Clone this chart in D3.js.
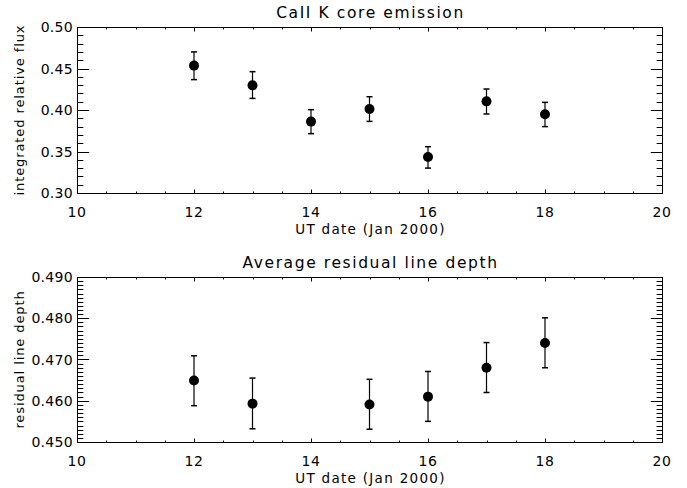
<!DOCTYPE html>
<html>
<head>
<meta charset="utf-8">
<script src="https://cdn.jsdelivr.net/npm/d3@7"></script>
<style>
  html, body { margin: 0; padding: 0; background: #fff; }
  svg text { font-family: "DejaVu Sans", sans-serif; fill: #000; }
</style>
</head>
<body>
<svg id="chart" width="687" height="488"></svg>
<script>
// ---- data ----
const days = [12, 13, 14, 15, 16, 17, 18];
const fluxValues = [0.4535, 0.4297, 0.3860, 0.4012, 0.3434, 0.4104, 0.3948];
const fluxErrLow = [0.4366, 0.4140, 0.3715, 0.3863, 0.3300, 0.3952, 0.3800];
const fluxErrHigh = [0.4700, 0.4462, 0.4004, 0.4160, 0.3558, 0.4253, 0.4092];

const depthDays = [12, 13, 15, 16, 17, 18];
const depthValues = [0.4649, 0.4593, 0.4591, 0.4610, 0.4680, 0.4740];
const depthErrLow = [0.4588, 0.4532, 0.4531, 0.4550, 0.4620, 0.4680];
const depthErrHigh = [0.4709, 0.4655, 0.4652, 0.4671, 0.4741, 0.4801];

const xTicks = [10, 12, 14, 16, 18, 20];
const fluxTicks = [0.30, 0.35, 0.40, 0.45, 0.50];
const fluxTickLabels = ["0.30", "0.35", "0.40", "0.45", "0.50"];
const depthTicks = [0.450, 0.460, 0.470, 0.480, 0.490];
const depthTickLabels = ["0.450", "0.460", "0.470", "0.480", "0.490"];

const titles = ["CaII K core emission", "Average residual line depth"];
const yLabels = ["integrated relative flux", "residual line depth"];
const xLabel = "UT date (Jan 2000)";

const svg = d3.select("#chart");

function panel(cfg) {
  const left = 77, right = 662;
  const top = cfg.top, bottom = cfg.bottom;
  const x = d3.scaleLinear().domain([10, 20]).range([left, right]);
  const y = d3.scaleLinear().domain(cfg.yDomain).range([bottom, top]);
  const g = svg.append("g");
  const stroke = "#000";

  // frame
  g.append("rect").attr("x", left + 0.5).attr("y", top + 0.5)
    .attr("width", right - left).attr("height", bottom - top)
    .attr("fill", "none").attr("stroke", stroke).attr("stroke-width", 1);

  const pw = right - left, ph = bottom - top;
  const yMajLen = 0.02 * pw, yMinLen = 0.01 * pw;
  const xMajLen = 0.02 * ph * 1.2, xMinLen = 0.01 * ph * 1.2;

  // x ticks bottom/top
  const xMinor = d3.range(10, 20.001, 0.5);
  xMinor.forEach(v => {
    const isMaj = Math.abs(v - Math.round(v / 2) * 2) < 1e-6;
    const L = isMaj ? xMajLen : xMinLen;
    const px = Math.round(x(v)) + 0.5;
    g.append("line").attr("x1", px).attr("x2", px)
      .attr("y1", bottom + 0.5).attr("y2", bottom + 0.5 - L).attr("stroke", stroke);
    g.append("line").attr("x1", px).attr("x2", px)
      .attr("y1", top + 0.5).attr("y2", top + 0.5 + L).attr("stroke", stroke);
  });
  g.selectAll(".xl").data(xTicks).enter().append("text")
    .attr("x", d => x(d)).attr("y", bottom + 24)
    .attr("text-anchor", "middle").attr("font-size", 14).attr("letter-spacing", 0.5).text(d => d);

  // y ticks
  const [y0, y1] = cfg.yDomain;
  const nMin = Math.round((y1 - y0) / cfg.minorStep);
  for (let i = 0; i <= nMin; i++) {
    const v = y0 + i * cfg.minorStep;
    const isMaj = i % cfg.minorPerMajor === 0;
    const L = isMaj ? yMajLen : yMinLen;
    const py = Math.round(y(v)) + 0.5;
    g.append("line").attr("x1", left + 0.5).attr("x2", left + 0.5 + L)
      .attr("y1", py).attr("y2", py).attr("stroke", stroke);
    g.append("line").attr("x1", right + 0.5).attr("x2", right + 0.5 - L)
      .attr("y1", py).attr("y2", py).attr("stroke", stroke);
  }
  g.selectAll(".yl").data(cfg.yTicks).enter().append("text")
    .attr("x", left - 4).attr("y", d => y(d) + 5)
    .attr("text-anchor", "end").attr("font-size", 14).attr("letter-spacing", 0.3)
    .text((d, i) => cfg.yTickLabels[i]);

  // titles and labels
  g.append("text").attr("x", (left + right) / 2 + 1).attr("y", top - 9)
    .attr("text-anchor", "middle").attr("font-size", 15.5).attr("letter-spacing", 1.6).text(cfg.title);
  g.append("text").attr("x", (left + right) / 2 + 1).attr("y", bottom + 41)
    .attr("text-anchor", "middle").attr("font-size", 13.5).attr("letter-spacing", 1.3).text(xLabel);
  g.append("text")
    .attr("transform", `translate(24,${(top + bottom) / 2}) rotate(-90)`)
    .attr("text-anchor", "middle").attr("font-size", 13).attr("letter-spacing", 0.9).text(cfg.yLabel);

  // error bars
  const cap = 3;
  cfg.xs.forEach((d, i) => {
    const px = x(d);
    g.append("line").attr("x1", px).attr("x2", px)
      .attr("y1", y(cfg.lo[i])).attr("y2", y(cfg.hi[i])).attr("stroke", stroke).attr("stroke-width", 1.2);
    [cfg.lo[i], cfg.hi[i]].forEach(v => {
      g.append("line").attr("x1", px - cap).attr("x2", px + cap)
        .attr("y1", y(v)).attr("y2", y(v)).attr("stroke", stroke).attr("stroke-width", 1.5);
    });
  });
  g.selectAll(".pt").data(cfg.xs).enter().append("circle")
    .attr("cx", d => x(d)).attr("cy", (d, i) => y(cfg.vals[i]))
    .attr("r", 5).attr("fill", "#000");
}

panel({
  top: 27, bottom: 193, yDomain: [0.30, 0.50], minorStep: 0.01, minorPerMajor: 5,
  yTicks: fluxTicks, yTickLabels: fluxTickLabels, title: titles[0], yLabel: yLabels[0],
  xs: days, vals: fluxValues, lo: fluxErrLow, hi: fluxErrHigh
});
panel({
  top: 277, bottom: 442, yDomain: [0.450, 0.490], minorStep: 0.001, minorPerMajor: 10,
  yTicks: depthTicks, yTickLabels: depthTickLabels, title: titles[1], yLabel: yLabels[1],
  xs: depthDays, vals: depthValues, lo: depthErrLow, hi: depthErrHigh
});
</script>
</body>
</html>
